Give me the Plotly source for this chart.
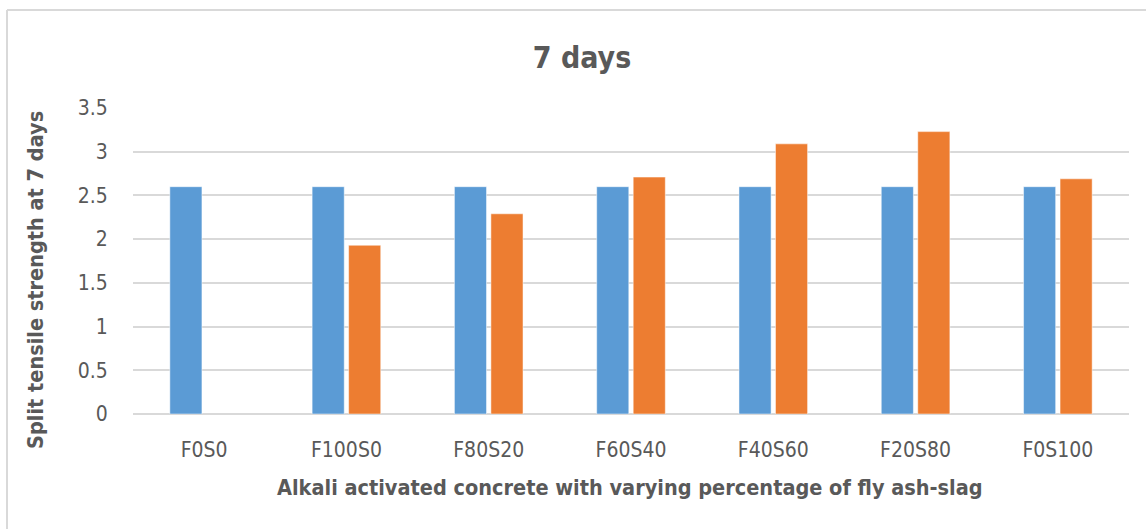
import plotly.graph_objects as go

categories = ["F0S0", "F100S0", "F80S20", "F60S40", "F40S60", "F20S80", "F0S100"]
series_a = [2.6, 2.6, 2.6, 2.6, 2.6, 2.6, 2.6]
series_b = [None, 1.93, 2.29, 2.71, 3.09, 3.23, 2.69]
y_ticks = [0, 0.5, 1, 1.5, 2, 2.5, 3, 3.5]
y_tick_text = ["0", "0.5", "1", "1.5", "2", "2.5", "3", "3.5"]

FONT = "DejaVu Sans Condensed, Liberation Sans Narrow, sans-serif"
TXT = "#595959"
GRID = "#d9d9d9"

W, H = 1146, 529
L, R, T, B = 133, 17, 108, 115
pw, ph = W - L - R, H - T - B

def px_to_paper_x(px):
    return (px - L) / pw

def px_to_paper_y(py):
    return (H - B - py) / ph

fig = go.Figure()
fig.add_trace(go.Bar(x=categories, y=series_a, name="Series 1",
                     marker=dict(color="#5B9BD5", line=dict(color="#ffffff", width=0.5))))
fig.add_trace(go.Bar(x=categories, y=series_b, name="Series 2",
                     marker=dict(color="#ED7D31", line=dict(color="#ffffff", width=0.5))))

fig.update_layout(
    width=W, height=H,
    margin=dict(l=L, r=R, t=T, b=B, autoexpand=False),
    paper_bgcolor="white", plot_bgcolor="white",
    barmode="group", bargap=0.487, bargroupgap=0.12,
    showlegend=False,
    title=dict(text="<b>7 days</b>", x=582 / W, xanchor="center",
               y=1 - 57 / H, yanchor="middle",
               font=dict(family=FONT, size=30, color=TXT)),
    font=dict(family=FONT, color=TXT),
)
fig.update_xaxes(
    type="category", showgrid=False, showline=False, zeroline=False,
    ticks="outside", ticklen=17, tickcolor="rgba(0,0,0,0)",
    tickfont=dict(family=FONT, size=21, color=TXT),
)
fig.update_yaxes(
    range=[0, 3.5], tickvals=y_ticks, ticktext=y_tick_text,
    showgrid=True, gridcolor=GRID, gridwidth=1.5,
    zeroline=True, zerolinecolor=GRID, zerolinewidth=1.5,
    showline=False,
    ticks="outside", ticklen=20, tickcolor="rgba(0,0,0,0)",
    tickfont=dict(family=FONT, size=21, color=TXT),
)

fig.add_annotation(text="<b>Alkali activated concrete with varying percentage of fly ash-slag</b>",
                   xref="paper", yref="paper", x=px_to_paper_x(630), y=px_to_paper_y(487),
                   xanchor="center", yanchor="middle", showarrow=False,
                   font=dict(family=FONT, size=21.5, color=TXT))
fig.add_annotation(text="<b>Split tensile strength at 7 days</b>",
                   xref="paper", yref="paper", x=px_to_paper_x(35), y=px_to_paper_y(280),
                   xanchor="center", yanchor="middle", textangle=-90, showarrow=False,
                   font=dict(family=FONT, size=21.5, color=TXT))

# chart frame (left and top edges)
fig.add_shape(type="line", xref="paper", yref="paper",
              x0=px_to_paper_x(7), x1=px_to_paper_x(7),
              y0=px_to_paper_y(10), y1=px_to_paper_y(540),
              line=dict(color=GRID, width=2))
fig.add_shape(type="line", xref="paper", yref="paper",
              x0=px_to_paper_x(7), x1=px_to_paper_x(1150),
              y0=px_to_paper_y(10), y1=px_to_paper_y(10),
              line=dict(color=GRID, width=2))

fig.write_html("out.html", config={"displayModeBar": False},
               post_script="document.body.style.margin='0px';")
